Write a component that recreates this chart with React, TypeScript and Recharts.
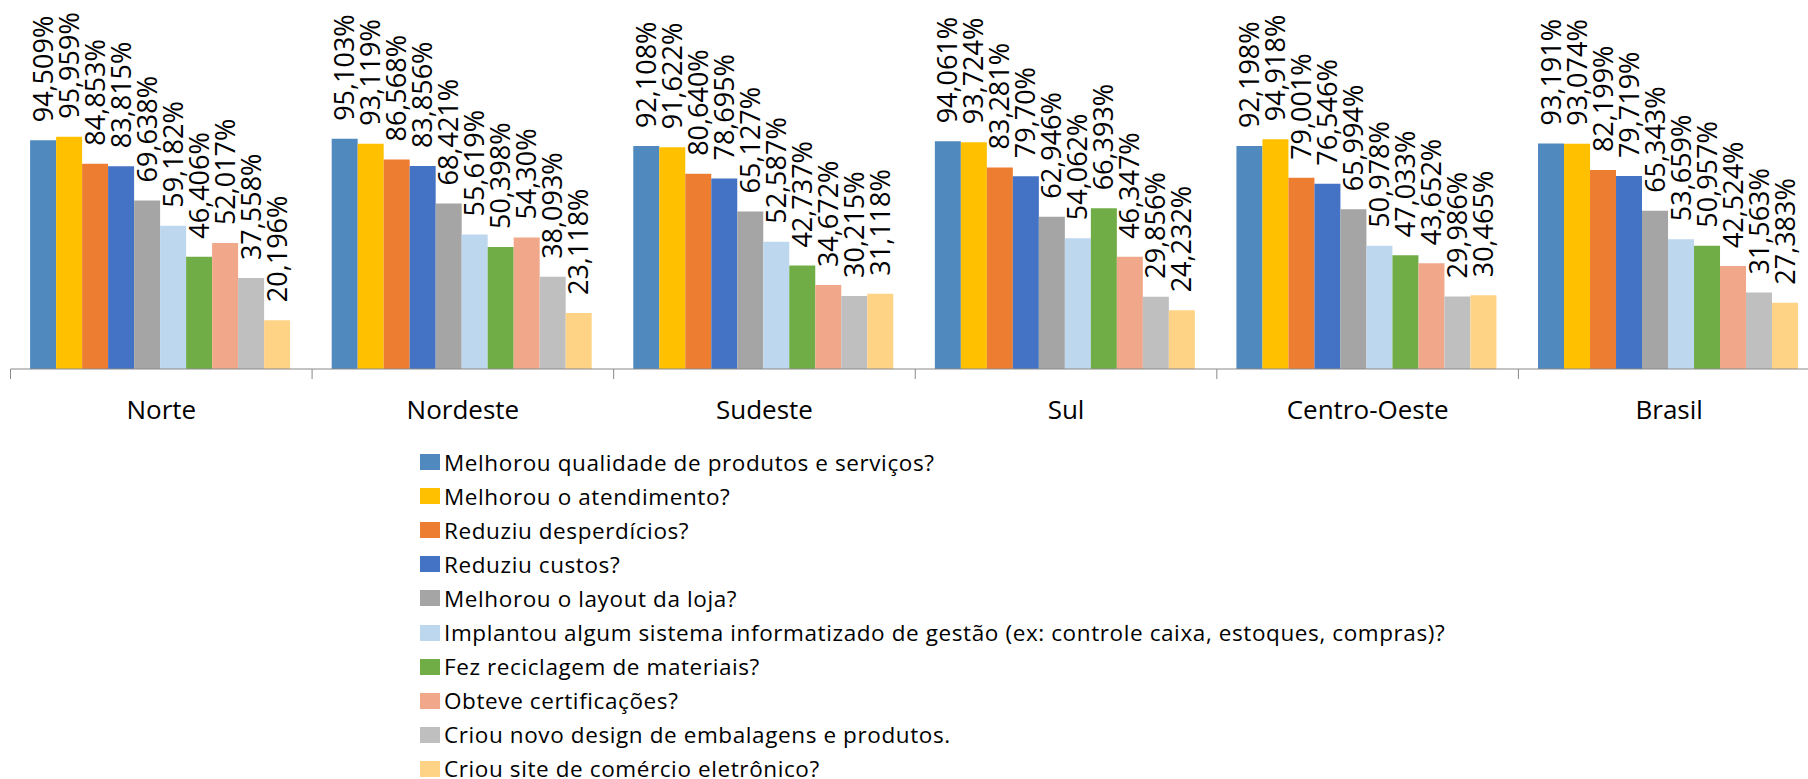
import { BarChart, Bar, XAxis, YAxis, Legend, LabelList } from "recharts";

const regions = ["Norte", "Nordeste", "Sudeste", "Sul", "Centro-Oeste", "Brasil"];

// values per question, in region order, as printed on the chart
const qualidade = ["94,509", "95,103", "92,108", "94,061", "92,198", "93,191"];
const atendimento = ["95,959", "93,119", "91,622", "93,724", "94,918", "93,074"];
const desperdicios = ["84,853", "86,568", "80,640", "83,281", "79,001", "82,199"];
const custos = ["83,815", "83,856", "78,695", "79,70", "76,546", "79,719"];
const layoutLoja = ["69,638", "68,421", "65,127", "62,946", "65,994", "65,343"];
const sistema = ["59,182", "55,619", "52,587", "54,062", "50,978", "53,659"];
const reciclagem = ["46,406", "50,398", "42,737", "66,393", "47,033", "50,957"];
const certificacoes = ["52,017", "54,30", "34,672", "46,347", "43,652", "42,524"];
const embalagens = ["37,558", "38,093", "30,215", "29,856", "29,986", "31,563"];
const siteEletronico = ["20,196", "23,118", "31,118", "24,232", "30,465", "27,383"];

const questions = [
  { key: "q1", name: "Melhorou qualidade de produtos e serviços?", values: qualidade, color: "#4F89BD" },
  { key: "q2", name: "Melhorou o atendimento?", values: atendimento, color: "#FFC000" },
  { key: "q3", name: "Reduziu desperdícios?", values: desperdicios, color: "#ED7D31" },
  { key: "q4", name: "Reduziu custos?", values: custos, color: "#4472C4" },
  { key: "q5", name: "Melhorou o layout da loja?", values: layoutLoja, color: "#A5A5A5" },
  { key: "q6", name: "Implantou algum sistema informatizado de gestão (ex: controle caixa, estoques, compras)?", values: sistema, color: "#BDD7EE" },
  { key: "q7", name: "Fez reciclagem de materiais?", values: reciclagem, color: "#70AD47" },
  { key: "q8", name: "Obteve certificações?", values: certificacoes, color: "#F0A78A" },
  { key: "q9", name: "Criou novo design de embalagens e produtos.", values: embalagens, color: "#BFBFBF" },
  { key: "q10", name: "Criou site de comércio eletrônico?", values: siteEletronico, color: "#FFD385" },
];

const data = regions.map((region, i) => {
  const row: Record<string, string | number> = { region };
  questions.forEach((q) => {
    row[q.key] = parseFloat(q.values[i].replace(",", "."));
    row[q.key + "Label"] = q.values[i] + "%";
  });
  return row;
});

const FONT = "'Open Sans', sans-serif";
const CHART_W = 1830;
const MARGIN = { top: 127, right: 10, bottom: 350, left: 10.5 };
const BAND = (CHART_W - MARGIN.left - MARGIN.right) / regions.length;

const renderValue = (props: any) => {
  const { x, y, width, value } = props;
  const cx = Number(x) + Number(width) / 2;
  return (
    <text
      transform={`translate(${cx + 9.5}, ${Number(y) - 18}) rotate(-90)`}
      fontSize={27}
      fontFamily={FONT}
      fill="#000"
    >
      {value}
    </text>
  );
};

const RegionTick = (props: any) => {
  const { x, y, payload } = props;
  const edge = x - BAND / 2;
  return (
    <g>
      <line x1={edge} y1={y - 10} x2={edge} y2={y} stroke="#898989" />
      <text x={x} y={y + 40} textAnchor="middle" fontSize={26} fontFamily={FONT} fill="#000">
        {payload.value}
      </text>
    </g>
  );
};

// keep the legend in series order (the library sorts its payload by name)
const renderLegend = () => (
  <div style={{ fontFamily: FONT, fontSize: 22.5, letterSpacing: 0.6, color: "#000", whiteSpace: "nowrap" }}>
    {questions.map((q) => (
      <div key={q.key} style={{ display: "flex", alignItems: "center", height: 34.1 }}>
        <span style={{ width: 20, height: 16, background: q.color, marginRight: 4 }} />
        <span>{q.name}</span>
      </div>
    ))}
  </div>
);

export default function App() {
  return (
    <div style={{ position: "fixed", left: 0, top: 0, width: 1808, height: 779, overflow: "hidden", background: "#fff" }}>
      <BarChart
        width={CHART_W}
        height={779}
        data={data}
        margin={MARGIN}
        barCategoryGap="6.5%"
        barGap={0}
      >
        <XAxis
          dataKey="region"
          interval={0}
          height={60}
          tickSize={10}
          tickMargin={0}
          tickLine={false}
          axisLine={{ stroke: "#898989" }}
          tick={<RegionTick />}
        />
        <YAxis hide domain={[0, 100]} />
        <Legend
          layout="vertical"
          align="center"
          verticalAlign="middle"
          content={renderLegend}
          wrapperStyle={{ left: 420, top: 445, width: 1200 }}
        />
        {questions.map((q) => (
          <Bar key={q.key} dataKey={q.key} name={q.name} fill={q.color} isAnimationActive={false}>
            <LabelList dataKey={q.key + "Label"} content={renderValue} />
          </Bar>
        ))}
      </BarChart>
    </div>
  );
}
